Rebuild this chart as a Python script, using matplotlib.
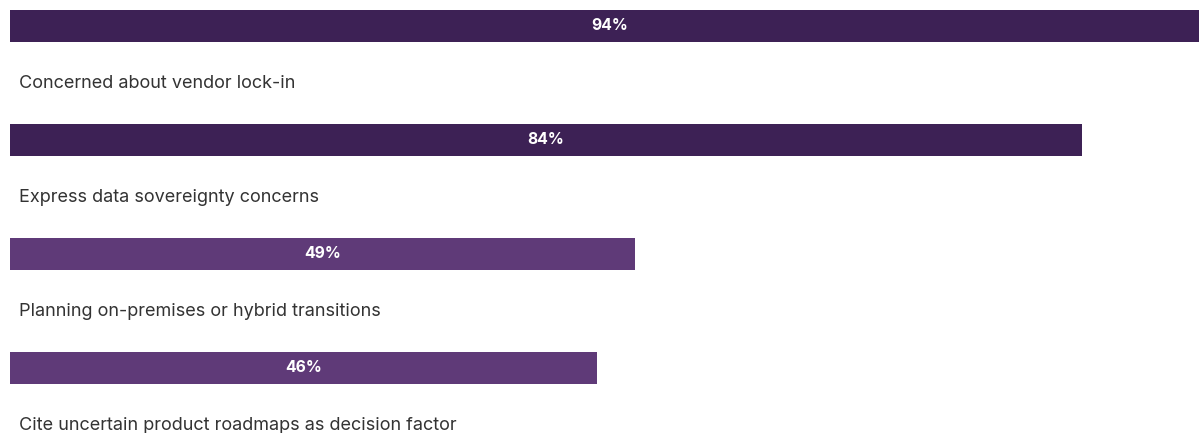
import matplotlib
matplotlib.use('Agg')
import matplotlib.pyplot as plt

# Survey data
labels = ['Concerned about vendor lock-in',
          'Express data sovereignty concerns',
          'Planning on-premises or hybrid transitions',
          'Cite uncertain product roadmaps as decision factor']
values = [94, 84, 49, 46]
colors = ['#3d2155', '#3d2155', '#5f3a78', '#5f3a78']

plt.rcParams['font.family'] = ['Inter', 'DejaVu Sans']

W, H = 1199, 433
fig = plt.figure(figsize=(W / 100, H / 100), dpi=100)
# axes start at the bar origin, bars scaled so 100% is ~1276 px
ax = fig.add_axes([10 / W, 0, 1 - 10 / W, 1])
px_per_pct = 12.76
ax.set_xlim(0, (W - 10) / px_per_pct)
ax.set_ylim((H - 26) / 114, -26 / 114)
ax.axis('off')

for i, (lab, v, c) in enumerate(zip(labels, values, colors)):
    ax.barh(i, v, height=32 / 114, color=c, left=0)
    ax.text(v / 2, i, f'{v}%', color='white', fontsize=11.3, fontweight='bold',
            ha='center', va='center')
    ax.text(9 / px_per_pct, i + 58 / 114, lab, color='#333333', fontsize=13,
            ha='left', va='center')

fig.savefig('out.png', dpi=100)
